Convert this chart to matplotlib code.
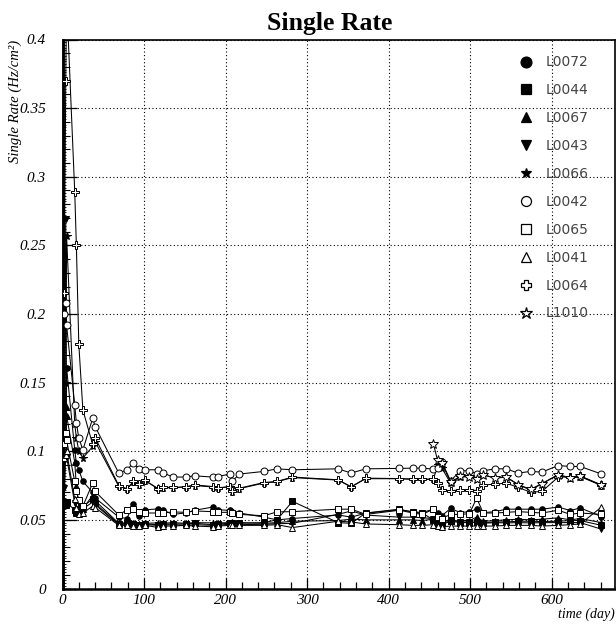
import matplotlib
matplotlib.use("Agg")
import matplotlib.pyplot as plt
from matplotlib.ticker import MultipleLocator, FuncFormatter
from matplotlib.lines import Line2D

# Measurement days shared by the long-running chambers
DAYS = [2, 4, 5, 15, 17, 20, 25, 37, 40,
        69, 79, 87, 94, 101, 117, 123, 135, 151, 162,
        184, 191, 205, 208, 217, 247, 263, 282,
        338, 354, 372, 413, 430, 441, 455, 460, 465,
        476, 488, 499, 508, 516, 531, 544, 559, 574, 588,
        608, 623, 635, 661]

# L1010 was only installed later
DAYS_L1010 = [455, 460, 465, 476, 488, 499, 508, 516, 531, 544,
              559, 574, 588, 608, 623, 635, 661]

L0072 = [0.062, 0.098, 0.161, 0.101, 0.0914, 0.0865, 0.078, 0.070, 0.066,
         0.052, 0.051, 0.0617, 0.053, 0.0573, 0.058, 0.0573, 0.054, 0.055, 0.057,
         0.0593, 0.0573, 0.057, 0.056, 0.055, 0.052, 0.050, 0.051,
         0.0536, 0.052, 0.0549, 0.0573, 0.056, 0.0553, 0.0578, 0.055, 0.053,
         0.0583, 0.0553, 0.056, 0.0578, 0.0553, 0.056, 0.0578, 0.0578, 0.0578, 0.0578,
         0.0593, 0.0568, 0.0587, 0.0524]

L0044 = [0.061, 0.061, 0.063, 0.057, 0.055, 0.058, 0.060, 0.065, 0.062,
         0.047, 0.0475, 0.047, 0.0465, 0.047, 0.0465, 0.047, 0.047, 0.047, 0.0475,
         0.0465, 0.047, 0.0475, 0.048, 0.0475, 0.048, 0.050, 0.0635,
         0.048, 0.0475, 0.055, 0.0578, 0.0555, 0.055, 0.050, 0.0485, 0.048,
         0.049, 0.048, 0.048, 0.0485, 0.048, 0.0485, 0.0485, 0.049, 0.049, 0.0488,
         0.049, 0.0495, 0.0495, 0.046]

L0067 = [0.097, 0.133, 0.126, 0.092, 0.075, 0.060, 0.058, 0.068, 0.064,
         0.0475, 0.048, 0.0478, 0.047, 0.0475, 0.0478, 0.0475, 0.048, 0.0475, 0.048,
         0.0478, 0.0478, 0.048, 0.0485, 0.048, 0.0475, 0.048, 0.049,
         0.0495, 0.0505, 0.050, 0.050, 0.050, 0.0495, 0.0505, 0.047, 0.0465,
         0.049, 0.0495, 0.0495, 0.052, 0.049, 0.0495, 0.050, 0.0505, 0.050, 0.0505,
         0.0515, 0.050, 0.051, 0.048]

L0043 = [0.073, 0.269, 0.096, 0.062, 0.057, 0.056, 0.058, 0.063, 0.061,
         0.0465, 0.047, 0.0468, 0.046, 0.0465, 0.046, 0.0462, 0.0465, 0.046, 0.0465,
         0.046, 0.0462, 0.0468, 0.047, 0.0465, 0.0468, 0.0472, 0.0475,
         0.054, 0.0565, 0.0535, 0.052, 0.052, 0.0515, 0.051, 0.0495, 0.049,
         0.050, 0.0485, 0.0485, 0.048, 0.0475, 0.048, 0.0478, 0.048, 0.0478, 0.048,
         0.048, 0.048, 0.048, 0.0432]

L0066 = [0.064, 0.150, 0.257, 0.120, 0.110, 0.100, 0.095, 0.1035, 0.107,
         0.0745, 0.0728, 0.0775, 0.0752, 0.0785, 0.0730, 0.0735, 0.0733, 0.0742, 0.0750,
         0.0740, 0.0735, 0.0740, 0.0705, 0.0728, 0.0768, 0.0778, 0.0808,
         0.0790, 0.0742, 0.0800, 0.0800, 0.0795, 0.0795, 0.0795, 0.0900, 0.0880,
         0.0768, 0.0816, 0.0812, 0.0797, 0.0828, 0.0804, 0.0812, 0.0755, 0.0719, 0.0763,
         0.0828, 0.0804, 0.0816, 0.0750]

L0042 = [0.200, 0.2077, 0.192, 0.1337, 0.1206, 0.1096, 0.101, 0.124, 0.118,
         0.0841, 0.0865, 0.0914, 0.087, 0.0865, 0.0865, 0.0845, 0.0812, 0.0812, 0.0821,
         0.0812, 0.0816, 0.0834, 0.078, 0.0834, 0.0853, 0.0872, 0.0865,
         0.0872, 0.0841, 0.0872, 0.0875, 0.0877, 0.0877, 0.087, 0.0875, 0.0925,
         0.0785, 0.0858, 0.0858, 0.0836, 0.0858, 0.0872, 0.0872, 0.0841, 0.0853, 0.0848,
         0.0896, 0.0889, 0.0889, 0.0834]

L0065 = [0.105, 0.113, 0.108, 0.078, 0.0707, 0.0646, 0.060, 0.0768, 0.0707,
         0.0536, 0.0573, 0.058, 0.0555, 0.055, 0.055, 0.055, 0.0558, 0.0555, 0.0565,
         0.056, 0.0555, 0.0555, 0.055, 0.054, 0.053, 0.0558, 0.056,
         0.0578, 0.0578, 0.054, 0.057, 0.055, 0.054, 0.0578, 0.052, 0.051,
         0.054, 0.054, 0.0545, 0.0658, 0.055, 0.055, 0.0555, 0.056, 0.0555, 0.055,
         0.057, 0.054, 0.055, 0.054]

L0041 = [0.095, 0.097, 0.100, 0.065, 0.059, 0.054, 0.055, 0.060, 0.059,
         0.046, 0.046, 0.0455, 0.0455, 0.046, 0.0445, 0.0455, 0.0455, 0.046, 0.0455,
         0.045, 0.0455, 0.046, 0.0465, 0.046, 0.046, 0.0465, 0.0444,
         0.049, 0.0485, 0.047, 0.0465, 0.046, 0.046, 0.0465, 0.0455, 0.045,
         0.0455, 0.0455, 0.0455, 0.0455, 0.0455, 0.0455, 0.046, 0.046, 0.046, 0.0455,
         0.046, 0.0465, 0.047, 0.0593]

L0064 = [0.215, 0.370, 0.430, 0.289, 0.250, 0.178, 0.130, 0.105, 0.110,
         0.075, 0.0724, 0.078, 0.076, 0.079, 0.0726, 0.0739, 0.0736, 0.0739, 0.0755,
         0.0743, 0.0731, 0.0743, 0.0707, 0.0731, 0.0772, 0.078, 0.0812,
         0.0792, 0.0739, 0.0804, 0.0801, 0.0797, 0.0797, 0.0797, 0.0768, 0.0719,
         0.0712, 0.0719, 0.0719, 0.0714, 0.0755, 0.076, 0.0768, 0.0736, 0.0702, 0.0707,
         0.0812, 0.0812, 0.082, 0.0755]

L1010 = [0.105, 0.0935, 0.0915, 0.0775, 0.0818, 0.0814, 0.0800, 0.0826, 0.0806,
         0.0814, 0.0757, 0.0722, 0.0765, 0.0830, 0.0806, 0.0818, 0.0752]

NAMES = ["L0072", "L0044", "L0067", "L0043", "L0066",
         "L0042", "L0065", "L0041", "L0064", "L1010"]

# (marker, filled, size in plot, size in legend)
STYLES = {
    "L0072": ("o", True, 4.0, 7.8),
    "L0044": ("s", True, 3.8, 6.6),
    "L0067": ("^", True, 4.2, 7.4),
    "L0043": ("v", True, 4.2, 7.4),
    "L0066": ("*", True, 5.8, 7.4),
    "L0042": ("o", False, 5.0, 7.2),
    "L0065": ("s", False, 4.6, 6.8),
    "L0041": ("^", False, 5.0, 7.6),
    "L0064": ("P", False, 5.2, 7.4),
    "L1010": ("*", False, 7.0, 8.6),
}

SERIES = {
    "L0072": (DAYS, L0072), "L0044": (DAYS, L0044), "L0067": (DAYS, L0067),
    "L0043": (DAYS, L0043), "L0066": (DAYS, L0066), "L0042": (DAYS, L0042),
    "L0065": (DAYS, L0065), "L0041": (DAYS, L0041), "L0064": (DAYS, L0064),
    "L1010": (DAYS_L1010, L1010),
}

SERIF = "Liberation Serif"

fig = plt.figure(figsize=(6.16, 6.24), dpi=100)
ax = fig.add_axes([62.5 / 616, 1 - 588.5 / 624, (614.5 - 62.5) / 616, (588.5 - 39.5) / 624])

for name in NAMES:
    x, y = SERIES[name]
    m, filled, ms, _ = STYLES[name]
    ax.plot(x, y, color="black", lw=0.75, marker=m, ms=ms,
            mfc="black" if filled else "white", mec="black", mew=0.7, zorder=3)

ax.set_xlim(0, 677)
ax.set_ylim(0, 0.4)

ax.xaxis.set_major_locator(MultipleLocator(100))
ax.xaxis.set_minor_locator(MultipleLocator(20))
ax.yaxis.set_major_locator(MultipleLocator(0.05))
ax.yaxis.set_minor_locator(MultipleLocator(0.002))
ax.yaxis.set_major_formatter(FuncFormatter(lambda v, p: f"{v:g}"))
ax.xaxis.set_major_formatter(FuncFormatter(lambda v, p: f"{v:g}"))

ax.grid(True, which="major", color="black", ls=(0, (1, 2.2)), lw=0.8)
ax.tick_params(axis="both", which="both", direction="in", top=False, right=False,
               color="black")
ax.tick_params(axis="y", which="major", length=10, width=0.9, pad=12)
ax.tick_params(axis="y", which="minor", length=2.5, width=0.6)
ax.tick_params(axis="x", which="major", length=8, width=0.9, pad=4)
ax.tick_params(axis="x", which="minor", length=5, width=0.9)

# secondary left scale carries the 0.01 ticks
sec = ax.secondary_yaxis("left")
sec.yaxis.set_major_locator(MultipleLocator(0.01))
sec.tick_params(axis="y", which="major", direction="in", length=5, width=0.8,
                labelleft=False)
sec.yaxis.set_minor_locator(MultipleLocator(1))
sec.spines["left"].set_linewidth(1.8)

for lab in ax.get_xticklabels() + ax.get_yticklabels():
    lab.set_fontfamily(SERIF)
    lab.set_fontstyle("italic")
    lab.set_fontsize(11)

for side in ("left", "bottom"):
    ax.spines[side].set_linewidth(1.8)
for side in ("top", "right"):
    ax.spines[side].set_linewidth(1.2)

fig.text(15 / 616, 1 - 40 / 624, "Single Rate (Hz/cm²)", family=SERIF,
         style="italic", fontsize=10.6, rotation=90, ha="center", va="top")
fig.text(615 / 616, 1 - 618 / 624, "time (day)", family=SERIF, style="italic",
         fontsize=10, ha="right", va="baseline")
fig.text(330 / 616, 1 - 30 / 624, "Single Rate", family=SERIF, weight="bold",
         fontsize=18.5, ha="center", va="baseline")

handles = []
for name in NAMES:
    m, filled, _, lms = STYLES[name]
    handles.append(Line2D([], [], ls="none", marker=m, ms=lms,
                          mfc="black" if filled else "white", mec="black", mew=0.9))
leg = ax.legend(handles, NAMES, loc="upper left",
                bbox_to_anchor=(512 / 616, 1 - 48.5 / 624),
                bbox_transform=fig.transFigure, frameon=False,
                handlelength=1.0, handletextpad=0.9, labelspacing=1.0,
                borderpad=0, prop={"family": "DejaVu Sans", "size": 10})
for t in leg.get_texts():
    t.set_color("#444444")

fig.savefig("out.png", dpi=100)
